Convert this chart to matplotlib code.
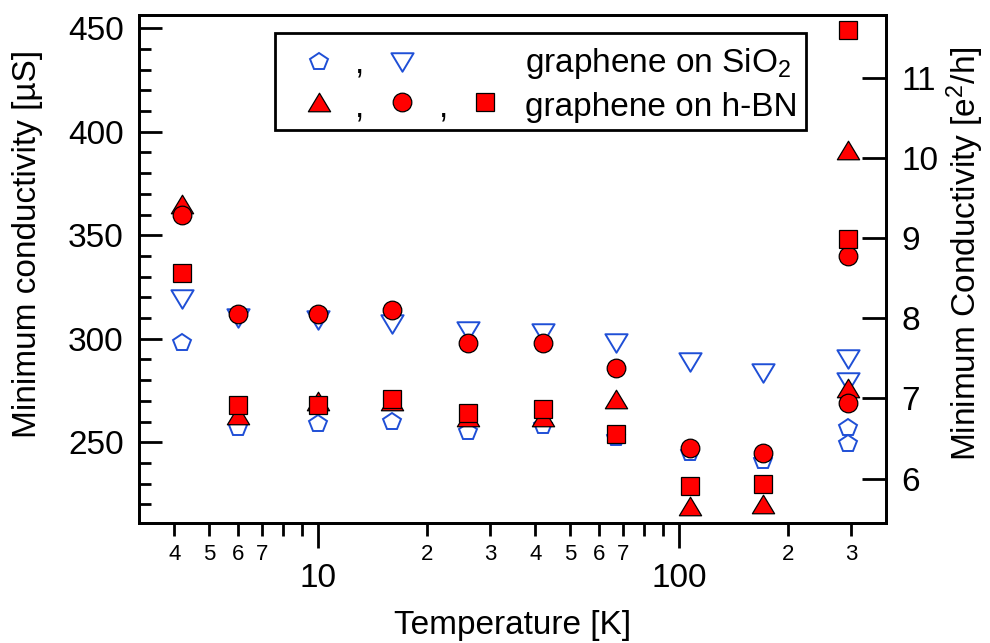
import numpy as np
import matplotlib
matplotlib.use("Agg")
import matplotlib.pyplot as plt
from matplotlib import ticker
from matplotlib.path import Path
from matplotlib.patches import Rectangle

plt.rcParams['font.family'] = ['Liberation Sans', 'DejaVu Sans']
plt.rcParams['mathtext.fontset'] = 'custom'
plt.rcParams['mathtext.rm'] = 'Liberation Sans'
plt.rcParams['mathtext.it'] = 'Liberation Sans:italic'
plt.rcParams['mathtext.default'] = 'regular'

E2H = 38.74  # uS per e^2/h

# temperatures [K]; the 294 K column has two points per series
temps = [4.2, 6, 10, 16, 26, 42, 67, 107, 171, 294, 294]

# graphene on SiO2 (open blue)
sio2_pent = [298, 257, 259, 260, 255, 258, 252, 245, 241, 257, 249]
sio2_vtri = [319, 310, 309, 307, 304, 303, 298, 289, 283.5, 290, 279]

# graphene on h-BN (filled red)
hbn_tri = [365, 263, 270, 270, 262, 262, 271, 219, 220, 391, 276]
hbn_circ = [360, 312, 312, 314, 298, 298, 286, 247, 245, 340, 269]
hbn_sq = [332, 268, 268, 271, 264, 266, 254, 229, 230, 348, 449]

blue = '#1f4fd6'
red = '#ff0000'
FS = 24

codes = [Path.MOVETO, Path.LINETO, Path.LINETO, Path.CLOSEPOLY]
tri_up = Path([(-1.2, -1), (1.2, -1), (0, 1), (0, 0)], codes)
tri_down = Path([(-1.2, 1), (1.2, 1), (0, -1), (0, 0)], codes)

open_kw = dict(ls='none', mfc='none', mec=blue, mew=1.4)
fill_kw = dict(ls='none', mfc=red, mec='black', mew=0.9)

fig = plt.figure(figsize=(9.9, 6.43), dpi=100)
ax = fig.add_axes([0.1404, 0.1866, 0.7545, 0.79])

ax.plot(temps, sio2_pent, marker='p', ms=13.3, **open_kw)
ax.plot(temps, sio2_vtri, marker=tri_down, ms=16, **open_kw)
ax.plot(temps, hbn_tri, marker=tri_up, ms=16, **fill_kw)
ax.plot(temps, hbn_circ, marker='o', ms=13.4, **fill_kw)
ax.plot(temps, hbn_sq, marker='s', ms=13.6, **fill_kw)

ax.set_xscale('log')
ax.set_xlim(3.19, 374)
ax.set_ylim(211, 456.4)

def minor_fmt(v, pos):
    m = int(round(v / 10 ** np.floor(np.log10(v))))
    return str(m) if 2 <= m <= 7 else ''

ax.xaxis.set_major_locator(ticker.LogLocator(base=10, subs=[1.0], numticks=20))
ax.xaxis.set_minor_locator(ticker.LogLocator(base=10, subs=np.arange(2, 10), numticks=20))
ax.xaxis.set_major_formatter(ticker.FuncFormatter(lambda v, p: f'{v:g}'))
ax.xaxis.set_minor_formatter(ticker.FuncFormatter(minor_fmt))
ax.yaxis.set_major_locator(ticker.MultipleLocator(50))
ax.yaxis.set_minor_locator(ticker.MultipleLocator(10))

for s in ax.spines.values():
    s.set_linewidth(2)

ax.tick_params(axis='x', which='major', direction='out', length=18, width=2, labelsize=FS, pad=11)
ax.tick_params(axis='x', which='minor', direction='out', length=9.4, width=2, labelsize=16, pad=6)
ax.tick_params(axis='y', which='major', direction='in', length=16.5, width=2, labelsize=FS, pad=11)
ax.tick_params(axis='y', which='minor', direction='in', length=8.6, width=2)
ax.tick_params(top=False, right=False, which='both')

ax.set_xlabel('Temperature [K]', fontsize=FS, labelpad=11)
ax.set_ylabel('Minimum conductivity [µS]', fontsize=FS)
ax.yaxis.set_label_coords(-0.128, 0.55)

ax2 = ax.twinx()
ax2.set_ylim(211 / E2H, 456.4 / E2H)
ax2.yaxis.set_major_locator(ticker.MultipleLocator(1))
ax2.yaxis.set_minor_locator(ticker.NullLocator())
ax2.tick_params(axis='y', direction='in', length=17, width=2, labelsize=FS, pad=11)
ax2.set_ylabel('Minimum Conductivity [e$^{2}$/h]', fontsize=FS)
ax2.yaxis.set_label_coords(1.079, 0.531)
for s in ax2.spines.values():
    s.set_linewidth(2)

# legend box drawn by hand
ax.add_patch(Rectangle((0.182, 0.7736), 0.711, 0.191, transform=ax.transAxes,
                       facecolor='white', edgecolor='black', lw=2, zorder=5))
key = dict(transform=ax.transAxes, clip_on=False, zorder=6)
r1, r2 = 0.9075, 0.8287
b1, b2 = 0.8878, 0.8012
ax.plot([0.2416], [r1], marker='p', ms=13.3, **open_kw, **key)
ax.plot([0.352], [r1], marker=tri_down, ms=16, **open_kw, **key)
ax.plot([0.2416], [r2], marker=tri_up, ms=16, **fill_kw, **key)
ax.plot([0.352], [r2], marker='o', ms=13.4, **fill_kw, **key)
ax.plot([0.4632], [r2], marker='s', ms=13.6, **fill_kw, **key)
txt = dict(transform=ax.transAxes, fontsize=FS, va='baseline', zorder=6)
ax.text(0.2959, b1, ',', ha='center', **txt)
ax.text(0.2959, b2, ',', ha='center', **txt)
ax.text(0.4076, b2, ',', ha='center', **txt)
ax.text(0.5174, b1, 'graphene on SiO$_2$', ha='left', **txt)
ax.text(0.5174, b2, 'graphene on h-BN', ha='left', **txt)

fig.savefig('out.png', dpi=100)
